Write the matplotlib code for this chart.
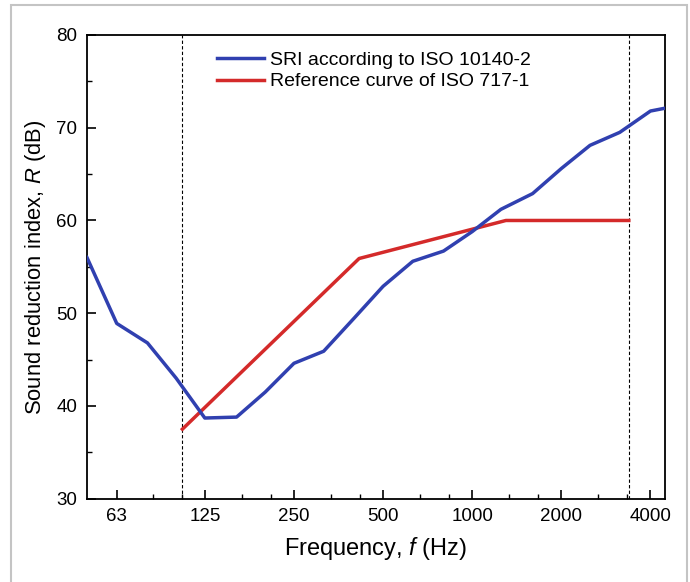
import matplotlib
matplotlib.use("Agg")
import matplotlib.pyplot as plt
from matplotlib.ticker import FixedLocator, NullFormatter
from matplotlib.patches import Rectangle

plt.rcParams['font.family'] = ['Liberation Sans', 'DejaVu Sans']
plt.rcParams['mathtext.fontset'] = 'custom'
plt.rcParams['mathtext.rm'] = 'Liberation Sans'
plt.rcParams['mathtext.it'] = 'Liberation Sans:italic'

# one-third octave bands, measured SRI
sri_freq = [50, 63, 80, 100, 125, 160, 200, 250, 315, 400, 500, 630, 800,
            1000, 1250, 1600, 2000, 2500, 3150, 4000, 5000]
sri_r = [56.0, 48.9, 46.8, 43.0, 38.7, 38.8, 41.5, 44.6, 45.9, 49.5, 52.9, 55.6,
         56.7, 58.8, 61.2, 62.9, 65.6, 68.1, 69.5, 71.8, 72.4]

# shifted reference curve (break points)
ref_freq = [105, 415, 1300, 3380]
ref_r = [37.5, 55.9, 60.0, 60.0]

# evaluation range limits
range_lines = [105, 3380]

tick_freq = [63, 125, 250, 500, 1000, 2000, 4000]
tick_labels = ['63', '125', '250', '500', '1000', '2000', '4000']

fig = plt.figure(figsize=(6.9, 5.82), dpi=100)
ax = fig.add_axes([0.1261, 0.1431, 0.8377, 0.7968])

for f in range_lines:
    ax.axvline(f, color='black', linestyle=(0, (3, 2)), linewidth=0.8, zorder=1)

ax.plot(sri_freq, sri_r, color='#3040b0', linewidth=2.5, label='SRI according to ISO 10140-2', zorder=3)
ax.plot(ref_freq, ref_r, color='#d42a2a', linewidth=2.5, label='Reference curve of ISO 717-1', zorder=2)

ax.set_xscale('log')
ax.set_xlim(50, 4480)
ax.set_ylim(30, 80)

minor = []
for a, b in zip(tick_freq[:-1], tick_freq[1:]):
    minor += [a + (b - a) / 3, a + 2 * (b - a) / 3]
ax.xaxis.set_major_locator(FixedLocator(tick_freq))
ax.xaxis.set_minor_locator(FixedLocator(minor))
ax.set_xticklabels(tick_labels)
ax.xaxis.set_minor_formatter(NullFormatter())
ax.set_yticks([30, 40, 50, 60, 70, 80])
ax.yaxis.set_minor_locator(FixedLocator([35, 45, 55, 65, 75]))

ax.tick_params(which='major', direction='in', length=6.5, width=1.2, labelsize=13.5, pad=7)
ax.tick_params(which='minor', direction='in', length=3.5, width=1.0)
for s in ax.spines.values():
    s.set_linewidth(1.3)

ax.set_xlabel('Frequency, $f$ (Hz)', fontsize=17, labelpad=7)
ax.set_ylabel('Sound reduction index, $R$ (dB)', fontsize=15.8, labelpad=6)

ax.legend(loc='upper left', bbox_to_anchor=(0.225, 0.965), frameon=False, fontsize=14,
          handlelength=2.4, handletextpad=0.3, labelspacing=0.2,
          borderpad=0, borderaxespad=0)

fig.patches.append(Rectangle((11 / 690, -0.01), 676 / 690, 1 - 5 / 582 + 0.01,
                             transform=fig.transFigure, fill=False,
                             edgecolor='#c4c4c4', linewidth=1.5))

fig.savefig('out.png', dpi=100)
